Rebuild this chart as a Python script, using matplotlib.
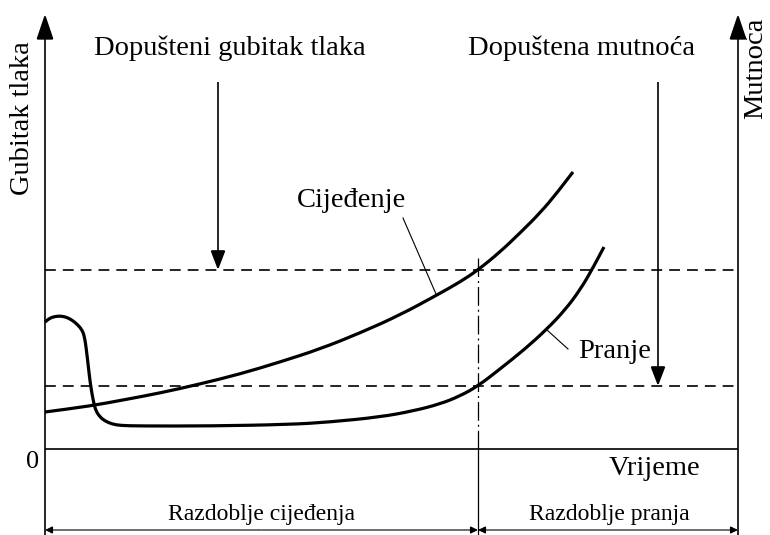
import matplotlib
matplotlib.use("Agg")
import matplotlib.pyplot as plt
from matplotlib.patches import FancyArrowPatch, PathPatch
from matplotlib.path import Path

plt.rcParams['font.family'] = ['Liberation Serif', 'DejaVu Serif']

# ---- data (schematic units: origin at axes intersection) ----
filt_x = [0, 45, 78, 115, 155, 195, 235, 275, 315, 355, 392, 415, 433, 455, 475, 495, 512, 528]
filt_y = [37, 43, 49, 56, 65, 75, 87, 100, 116, 134, 154, 167, 179, 197, 216, 236, 256, 277]

wash_x = [0, 5, 10, 15, 21, 27, 33, 37, 39, 40.5, 42, 43.5, 45, 47, 49, 51, 55, 60, 67, 75, 95,
          165, 245, 285, 335, 368, 395, 415, 433, 455, 480, 502, 520, 535, 548, 559]
wash_y = [127, 131, 132.5, 133, 132, 129, 124, 119, 114, 106, 94, 81, 68, 55, 45, 38, 32, 28, 25,
          23.5, 23, 23, 24.5, 27, 32, 38, 45, 53, 63, 80, 100, 120, 139, 159, 181, 202]

loss_limit = 179      # allowed pressure loss level
turb_limit = 63       # allowed turbidity level
t_switch = 433        # end of filtration period
t_end = 693           # right axis (turbidity)
y_top = 435

labels = {
    'loss': 'Dopušteni gubitak tlaka',
    'turb': 'Dopuštena mutnoća',
    'ylab': 'Gubitak tlaka',
    'y2lab': 'Mutnoća',
    'xlab': 'Vrijeme',
    'filt': 'Cijeđenje',
    'wash': 'Pranje',
    'p1': 'Razdoblje cijeđenja',
    'p2': 'Razdoblje pranja',
}

fig = plt.figure(figsize=(7.7, 5.35), dpi=100)
ax = fig.add_axes([0, 0, 1, 1])
ax.set_xlim(-45, 725)
ax.set_ylim(-86, 449)
ax.axis('off')

k = 'black'
y_bot = -86
dim_y = -81


def arrow(p0, p1, hl, hw, lw):
    a = FancyArrowPatch(p0, p1, arrowstyle=f'-|>,head_length={hl},head_width={hw}',
                        mutation_scale=1, lw=lw, color=k, shrinkA=0, shrinkB=0,
                        joinstyle='miter', capstyle='butt')
    ax.add_patch(a)


def smooth_curve(xs, ys, lw):
    # quadratic Bezier path through the read points (points used as control points)
    pts = list(zip(xs, ys))
    verts = [pts[0]]
    codes = [Path.MOVETO]
    mid = ((pts[0][0] + pts[1][0]) / 2, (pts[0][1] + pts[1][1]) / 2)
    verts.append(mid)
    codes.append(Path.LINETO)
    for i in range(1, len(pts) - 1):
        nxt = ((pts[i][0] + pts[i + 1][0]) / 2, (pts[i][1] + pts[i + 1][1]) / 2)
        if i == len(pts) - 2:
            nxt = pts[i + 1]
        verts += [pts[i], nxt]
        codes += [Path.CURVE3, Path.CURVE3]
    ax.add_patch(PathPatch(Path(verts, codes), fill=False, lw=lw, edgecolor=k,
                           capstyle='butt', joinstyle='round'))


# axes
arrow((0, y_bot), (0, y_top), 16, 5.4, 1.2)
arrow((t_end, y_bot), (t_end, y_top), 16, 5.4, 1.2)
ax.plot([0, t_end], [0, 0], color=k, lw=1.2, solid_capstyle='butt')

# limit lines
ax.plot([0, t_end], [loss_limit, loss_limit], color=k, lw=1.2, linestyle=(0, (6.5, 4.2)))
ax.plot([0, t_end], [turb_limit, turb_limit], color=k, lw=1.2, linestyle=(0, (6.5, 4.2)))

# switch line
ax.plot([t_switch, t_switch], [0, 191], color=k, lw=0.9, linestyle=(0, (15, 3.2, 1.6, 3.2)))
ax.plot([t_switch, t_switch], [y_bot, 0], color=k, lw=0.9)

# curves
smooth_curve(filt_x, filt_y, 2.3)
smooth_curve(wash_x, wash_y, 2.3)

# leaders
ax.plot([358, 391], [231, 155], color=k, lw=0.8)
ax.plot([502, 523], [119, 100], color=k, lw=0.8)

# limit arrows
arrow((173, 367), (173, loss_limit), 12, 4.6, 1.2)
arrow((613, 367), (613, turb_limit), 12, 4.6, 1.2)

# period dimension arrows
arrow((t_switch / 2, dim_y), (0, dim_y), 4.5, 2.2, 0.8)
arrow((t_switch / 2, dim_y), (t_switch, dim_y), 4.5, 2.2, 0.8)
arrow(((t_switch + t_end) / 2, dim_y), (t_switch, dim_y), 4.5, 2.2, 0.8)
arrow(((t_switch + t_end) / 2, dim_y), (t_end, dim_y), 4.5, 2.2, 0.8)

fs = 20.5
ax.text(185, 394, labels['loss'], fontsize=fs, ha='center', va='baseline')
ax.text(537, 394, labels['turb'], fontsize=fs, ha='center', va='baseline')
ax.text(-22, 331, labels['ylab'], fontsize=fs, ha='center', va='center', rotation=90)
ax.text(711, 381, labels['y2lab'], fontsize=fs, ha='center', va='center', rotation=90)
ax.text(307, 242, labels['filt'], fontsize=fs, ha='center', va='baseline')
ax.text(570, 91, labels['wash'], fontsize=fs, ha='center', va='baseline')
ax.text(609, -26, labels['xlab'], fontsize=fs, ha='center', va='baseline')
ax.text(-12, -13, '0', fontsize=19, ha='center', va='center')
ax.text(217, -71, labels['p1'], fontsize=17, ha='center', va='baseline')
ax.text(564, -71, labels['p2'], fontsize=17, ha='center', va='baseline')

fig.savefig('out.png', dpi=100)
